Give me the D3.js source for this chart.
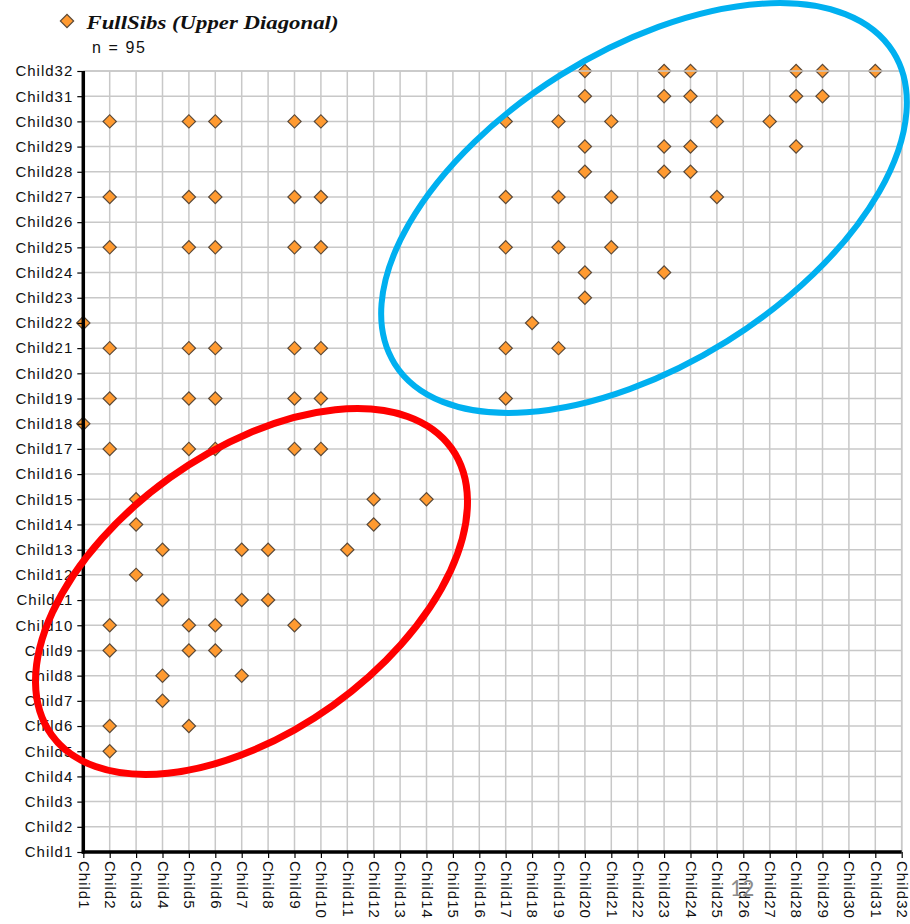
<!DOCTYPE html>
<html>
<head>
<meta charset="utf-8">
<script src="https://cdn.jsdelivr.net/npm/d3@7"></script>
<style>
    body { margin: 0; background: #fff; }
    svg { display: block; }
</style>
</head>
<body>
<svg id="sib-chart" width="910" height="924"></svg>
<script>
const children = d3.range(1, 33).map(function (i) { return `Child${i}`; });

// [x child, y child] for each full sib pair
const fullSibPairs = [
    [20, 32], [23, 32], [24, 32], [28, 32], [29, 32], [31, 32],
    [20, 31], [23, 31], [24, 31], [28, 31], [29, 31],
    [2, 30], [5, 30], [6, 30], [9, 30], [10, 30], [17, 30], [19, 30], [21, 30], [25, 30], [27, 30],
    [20, 29], [23, 29], [24, 29], [28, 29],
    [20, 28], [23, 28], [24, 28],
    [2, 27], [5, 27], [6, 27], [9, 27], [10, 27], [17, 27], [19, 27], [21, 27], [25, 27],
    [2, 25], [5, 25], [6, 25], [9, 25], [10, 25], [17, 25], [19, 25], [21, 25],
    [20, 24], [23, 24],
    [20, 23],
    [1, 22], [18, 22],
    [2, 21], [5, 21], [6, 21], [9, 21], [10, 21], [17, 21], [19, 21],
    [2, 19], [5, 19], [6, 19], [9, 19], [10, 19], [17, 19],
    [1, 18],
    [2, 17], [5, 17], [6, 17], [9, 17], [10, 17],
    [3, 15], [12, 15], [14, 15],
    [3, 14], [12, 14],
    [4, 13], [7, 13], [8, 13], [11, 13],
    [3, 12],
    [4, 11], [7, 11], [8, 11],
    [2, 10], [5, 10], [6, 10], [9, 10],
    [2, 9], [5, 9], [6, 9],
    [4, 8], [7, 8],
    [4, 7],
    [2, 6], [5, 6],
    [2, 5]
];

const seriesName = "FullSibs (Upper Diagonal)";
const pageNumber = "12";

const svg = d3.select("#sib-chart");

const plotLeft = 83.3, plotRight = 901.7, plotTop = 71, plotBottom = 852;

const xScale = d3.scalePoint().domain(children).range([plotLeft, plotRight]);
const yScale = d3.scalePoint().domain(children).range([plotBottom, plotTop]);

// grid
const grid = svg.append("g").attr("class", "grid");
grid.selectAll("line.v")
    .data(children)
    .join("line")
    .attr("class", "v")
    .attr("x1", function (d) { return xScale(d); })
    .attr("x2", function (d) { return xScale(d); })
    .attr("y1", plotTop)
    .attr("y2", plotBottom)
    .attr("stroke", "#c8c8c8")
    .attr("stroke-width", 1.5);
grid.selectAll("line.h")
    .data(children)
    .join("line")
    .attr("class", "h")
    .attr("x1", plotLeft)
    .attr("x2", plotRight)
    .attr("y1", function (d) { return yScale(d); })
    .attr("y2", function (d) { return yScale(d); })
    .attr("stroke", "#c8c8c8")
    .attr("stroke-width", 1.5);

// diamonds
const diamond = d3.symbol().type(d3.symbolSquare).size(88);
svg.append("g")
    .selectAll("path")
    .data(fullSibPairs)
    .join("path")
    .attr("d", diamond)
    .attr("transform", function (d) {
        return `translate(${xScale(children[d[0] - 1])}, ${yScale(children[d[1] - 1])}) rotate(45)`;
    })
    .attr("fill", "#ff9a30")
    .attr("stroke", "#5b4a3a")
    .attr("stroke-width", 1.2);

// top / right border
svg.append("path")
    .attr("d", `M${plotLeft},${plotTop}H${plotRight}V${plotBottom}`)
    .attr("fill", "none")
    .attr("stroke", "#c8c8c8")
    .attr("stroke-width", 1.5);

// axes
const yAxis = svg.append("g")
    .attr("transform", `translate(${plotLeft}, 0)`)
    .call(d3.axisLeft(yScale).tickSize(6).tickPadding(4));
const xAxis = svg.append("g")
    .attr("transform", `translate(0, ${plotBottom})`)
    .call(d3.axisBottom(xScale).tickSize(6).tickPadding(4));

[xAxis, yAxis].forEach(function (axis) {
    axis.select(".domain").remove();
    axis.selectAll(".tick line").attr("stroke", "#000").attr("stroke-width", 1.2);
    axis.selectAll("text")
        .attr("fill", "#111")
        .style("font-family", "'Liberation Sans', Arial, sans-serif")
        .style("font-size", "15px")
        .style("letter-spacing", "1px");
});

xAxis.selectAll("text")
    .attr("transform", "rotate(90)")
    .attr("x", 9)
    .attr("y", 0)
    .attr("dy", "0.35em")
    .attr("text-anchor", "start");

svg.append("line")
    .attr("x1", plotLeft).attr("x2", plotLeft)
    .attr("y1", plotTop).attr("y2", plotBottom + 1.5)
    .attr("stroke", "#000").attr("stroke-width", 3.5);
svg.append("line")
    .attr("x1", plotLeft - 1.5).attr("x2", plotRight)
    .attr("y1", plotBottom).attr("y2", plotBottom)
    .attr("stroke", "#000").attr("stroke-width", 3.5);

// legend
svg.append("path")
    .attr("d", diamond)
    .attr("transform", "translate(67, 21) rotate(45)")
    .attr("fill", "#ff9a30")
    .attr("stroke", "#5b4a3a")
    .attr("stroke-width", 1.2);
svg.append("text")
    .attr("x", 86.5)
    .attr("y", 28.5)
    .attr("textLength", 252)
    .attr("lengthAdjust", "spacingAndGlyphs")
    .style("font-family", "'Liberation Serif', 'Times New Roman', serif")
    .style("font-weight", "bold")
    .style("font-style", "italic")
    .style("font-size", "19.5px")
    .attr("fill", "#111")
    .text(seriesName);
svg.append("text")
    .attr("x", 92)
    .attr("y", 53)
    .attr("textLength", 53)
    .style("font-family", "'Liberation Sans', Arial, sans-serif")
    .style("font-size", "16px")
    .attr("fill", "#111")
    .text(`n = ${fullSibPairs.length}`);

// annotation ellipses
svg.append("ellipse")
    .attr("transform", "translate(644, 208) rotate(-32)")
    .attr("rx", 294)
    .attr("ry", 157)
    .attr("fill", "none")
    .attr("stroke", "#00b0f0")
    .attr("stroke-width", 6);
svg.append("ellipse")
    .attr("transform", "translate(251.5, 591.5) rotate(-35.6)")
    .attr("rx", 246)
    .attr("ry", 140)
    .attr("fill", "none")
    .attr("stroke", "#ff0000")
    .attr("stroke-width", 7);

// slide number
svg.append("text")
    .attr("x", 742)
    .attr("y", 896)
    .attr("text-anchor", "middle")
    .style("font-family", "Carlito, 'Open Sans', sans-serif")
    .style("font-size", "24px")
    .attr("fill", "#8c8c8c")
    .text(pageNumber);
</script>
</body>
</html>
